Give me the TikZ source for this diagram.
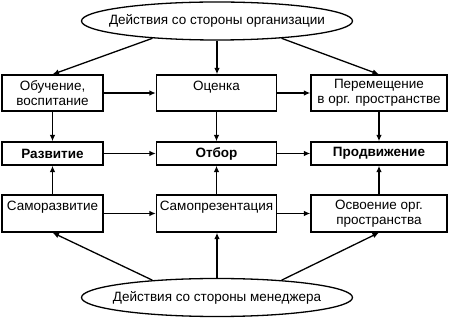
\documentclass[tikz,border=0pt]{standalone}
\usepackage{fontspec}
\setmainfont{Liberation Sans}
\usetikzlibrary{shapes.geometric,arrows.meta}
\begin{document}
\begin{tikzpicture}[x=1pt,y=-1pt,
  font=\fontsize{13.5}{14.5}\selectfont,
  every node/.style={line width=1.3pt},
  box/.style={draw, rectangle, inner sep=0pt, align=center},
  tall/.style={box, minimum height=36pt},
  flat/.style={box, minimum height=23pt, font=\fontsize{13.5}{14.5}\selectfont\bfseries},
  oval/.style={draw, ellipse, inner xsep=-15pt, inner ysep=0pt, minimum width=271pt, minimum height=38pt},
  arr/.style={line width=1.3pt, -{Latex[length=6.5pt,width=5.5pt]}}]
\useasboundingbox (0,0) rectangle (450,320);
\node[oval] (top) at (217,21) {Действия со стороны организации};
\node[oval] (bot) at (217,297.5) {Действия со стороны менеджера};
% top row
\node[tall, minimum width=101pt] (lt) at (52.5,93) {Обучение,\\воспитание};
\node[tall, minimum width=120pt] (mt) at (216.5,93) {Оценка\\~};
\node[tall, minimum width=136pt] (rt) at (379,93) {Перемещение\\в орг. пространстве};
% middle row
\node[flat, minimum width=101pt] (lm) at (52.5,153.5) {Развитие};
\node[flat, minimum width=120pt] (mm) at (216.5,153.5) {Отбор};
\node[flat, minimum width=136pt] (rm) at (379,153.5) {Продвижение};
% bottom row
\node[tall, minimum width=101pt, minimum height=37pt] (lb) at (52.5,213.5) {Саморазвитие\\~};
\node[tall, minimum width=120pt, minimum height=37pt] (mb) at (216.5,213.5) {Самопрезентация\\~};
\node[tall, minimum width=136pt, minimum height=37pt] (rb) at (379,213.5) {Освоение орг.\\пространства};
% arrows from top ellipse
\draw[arr] (top.195) -- (lt.north);
\draw[arr] (top.south) -- (top.south |- mt.north);
\draw[arr] (top.345) -- (rt.north);
% arrows from bottom ellipse
\draw[arr] (bot.165) -- (lb.south);
\draw[arr] (bot.north) -- (bot.north |- mb.south);
\draw[arr] (bot.15) -- (rb.south);
% horizontal
\draw[arr] (lt) -- (mt);
\draw[arr] (mt) -- (rt);
\draw[arr] (lm) -- (mm);
\draw[arr] (mm) -- (rm);
\draw[arr] (lb) -- (mb);
\draw[arr] (mb) -- (rb);
% vertical
\draw[arr] (lt) -- (lm);
\draw[arr] (mt) -- (mm);
\draw[arr] (rt) -- (rm);
\draw[arr] (lb) -- (lm);
\draw[arr] (mb) -- (mm);
\draw[arr] (rb) -- (rm);
\end{tikzpicture}
\end{document}
